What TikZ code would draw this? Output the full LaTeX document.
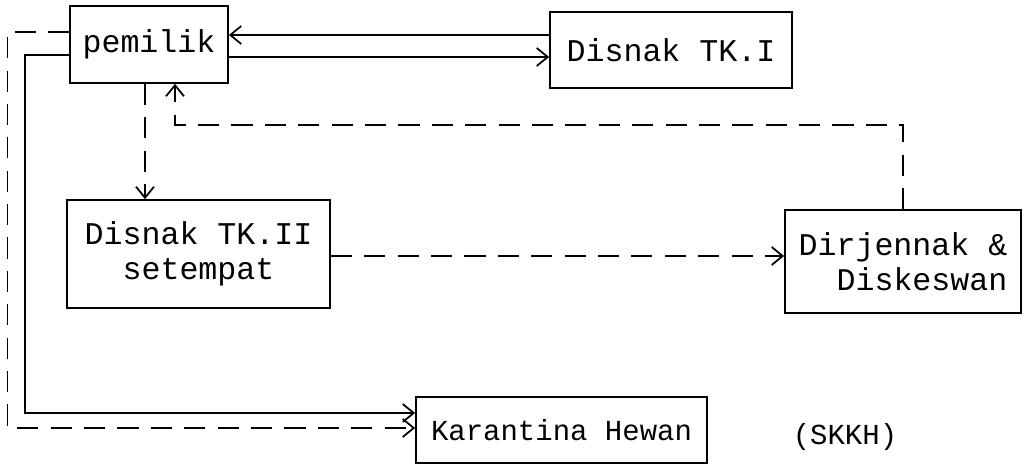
\documentclass[tikz,border=0pt]{standalone}
\usepackage{fontspec}
\setmonofont{Liberation Mono}
\usepackage{tikz}
\usetikzlibrary{arrows.meta,positioning,calc}

\begin{document}
\begin{tikzpicture}[
    office/.style={rectangle, draw, line width=1pt, inner sep=0pt, font=\ttfamily\fontsize{18}{20}\selectfont, align=center},
    small/.style={font=\ttfamily\fontsize{16.5}{19}\selectfont},
    flow/.style={-{Straight Barb[length=2.2mm,width=3.6mm]}, line width=1pt},
    req/.style={flow, dash pattern=on 12pt off 7pt}
]
\useasboundingbox (0,0) rectangle (20.48,9.3);

\node[office, minimum width=3.16cm, minimum height=1.54cm] (pemilik) at (2.98,8.41) {pemilik};
\node[office, minimum width=4.84cm, minimum height=1.52cm] (tk1) at (13.42,8.30) {Disnak TK.I};
\node[office, minimum width=5.26cm, minimum height=2.16cm] (tk2) at (3.97,4.22) {Disnak TK.II\\setempat};
\node[office, minimum width=4.72cm, minimum height=2.06cm, align=right] (dirjen) at (18.06,4.07) {Dirjennak \&\\Diskeswan};
\node[office, small, minimum width=5.82cm, minimum height=1.32cm] (karantina) at (11.23,0.70) {Karantina Hewan};
\node[small] (skkh) at (16.9,0.56) {(SKKH)};

\draw[flow] (tk1.west |- 0,8.60) -- (pemilik.east |- 0,8.60);
\draw[flow] (pemilik.east |- 0,8.16) -- (tk1.west |- 0,8.16);
\draw[req] (pemilik.south -| 2.9,0) -- (tk2.north -| 2.9,0);
\draw[req] (tk2.east |- 0,4.18) -- (dirjen.west |- 0,4.18);
\draw[req] (dirjen.north) -- (dirjen.north |- 0,6.8) -| (pemilik.south -| 3.5,0);
\draw[flow] (pemilik.west |- 0,8.20) -| (0.5,1.04) -- (karantina.west |- 0,1.04);
\draw[req] (pemilik.west |- 0,8.66) -| (0.15,0.74) -- (karantina.west |- 0,0.74);

\end{tikzpicture}
\end{document}
